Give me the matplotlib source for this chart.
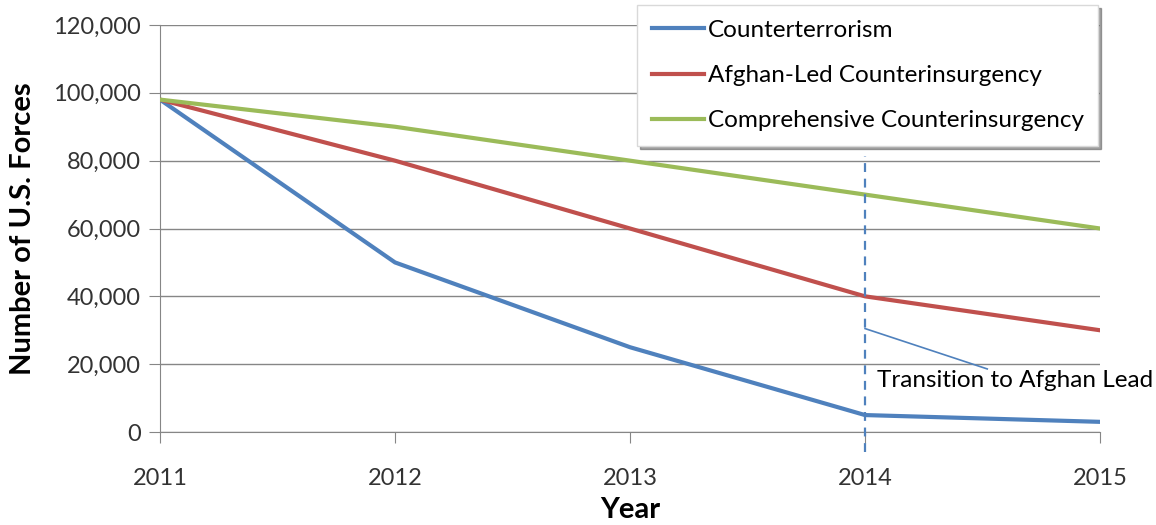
import matplotlib.pyplot as plt
from matplotlib.ticker import FuncFormatter

years = [2011, 2012, 2013, 2014, 2015]
counterterrorism = [98000, 50000, 25000, 5000, 3000]
afghan_led = [98000, 80000, 60000, 40000, 30000]
comprehensive = [98000, 90000, 80000, 70000, 60000]

plt.rcParams['font.family'] = ['Lato', 'DejaVu Sans']

fig = plt.figure(figsize=(11.56, 5.25), dpi=100)
ax = fig.add_axes([0.1384, 0.1771, 0.8132, 0.7753])

ax.plot(years, counterterrorism, color='#4F81BD', lw=3, label='Counterterrorism', zorder=3)
ax.plot(years, afghan_led, color='#C0504D', lw=3, label='Afghan-Led Counterinsurgency', zorder=3)
ax.plot(years, comprehensive, color='#9BBB59', lw=3, label='Comprehensive Counterinsurgency', zorder=3)

ax.set_xlim(2011, 2015)
ax.set_ylim(0, 120000)
ax.set_xticks(years)
ax.set_yticks(range(0, 120001, 20000))
ax.yaxis.set_major_formatter(FuncFormatter(lambda v, p: f'{int(v):,}'))
ax.grid(axis='y', color='#868686', lw=1)
ax.set_axisbelow(True)
for s in ['top', 'right']:
    ax.spines[s].set_visible(False)
ax.spines['left'].set_color('#868686')
ax.spines['bottom'].set_color('#868686')
ax.tick_params(axis='both', colors='#868686', labelcolor='#333333', labelsize=17, length=8)
ax.tick_params(axis='y', pad=6)
ax.tick_params(axis='x', pad=18)

ax.set_ylabel('Number of U.S. Forces', fontsize=21, fontweight='bold', labelpad=12)
ax.set_xlabel('Year', fontsize=21, fontweight='bold', labelpad=6)

# transition marker
ax.plot([2014, 2014], [-6000, 81500], color='#4F81BD', lw=1.6, ls=(0, (4, 3)), clip_on=False, zorder=4)
ax.plot([2014, 2014.52], [30500, 18600], color='#4F81BD', lw=1.2, zorder=4)
ax.text(2014.05, 15300, 'Transition to Afghan Lead', fontsize=17.5, va='center', ha='left',
        color='black', zorder=5)

leg = ax.legend(loc='upper right', bbox_to_anchor=(0.95, 0.99), bbox_transform=fig.transFigure,
                fontsize=17.5, frameon=True, fancybox=False, shadow=True, handlelength=2.15,
                handletextpad=0.15, labelspacing=1.0, borderpad=0.6, borderaxespad=0)
leg.get_frame().set_edgecolor('#d9d9d9')

fig.savefig('out.png', dpi=100)
